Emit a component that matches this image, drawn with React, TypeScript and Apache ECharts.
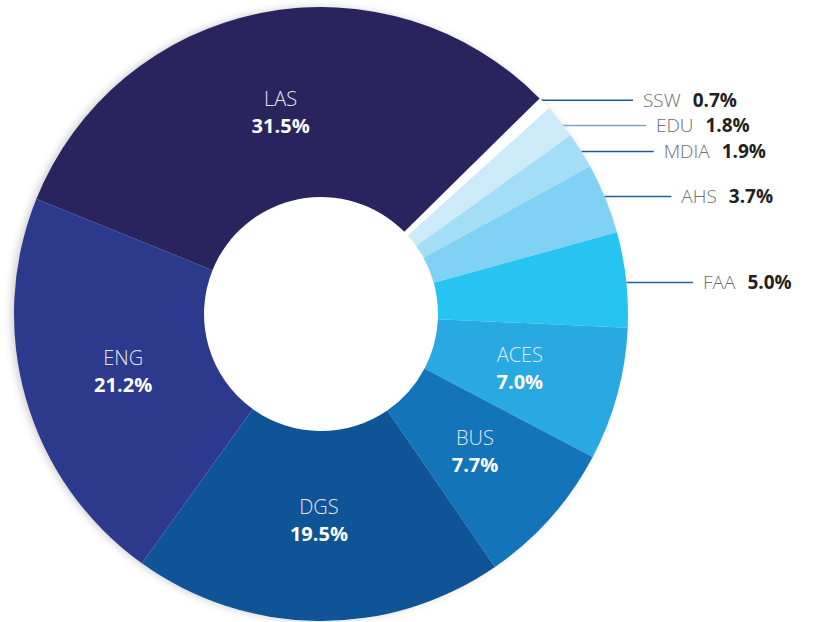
import React, { useEffect, useRef } from "react";
import * as echarts from "echarts";

const categories = ["SSW", "EDU", "MDIA", "AHS", "FAA", "ACES", "BUS", "DGS", "ENG", "LAS"];
const shares = [0.7, 1.8, 1.9, 3.7, 5.0, 7.0, 7.7, 19.5, 21.2, 31.5];
const outsideLabels = ["SSW", "EDU", "MDIA", "AHS", "FAA"];

const sliceColors: Record<string, string> = {
  SSW: "#ffffff",
  EDU: "#cdeaf8",
  MDIA: "#a4ddf6",
  AHS: "#7fd2f4",
  FAA: "#27c4f2",
  ACES: "#28a9e1",
  BUS: "#1474ba",
  DGS: "#0e5496",
  ENG: "#2c398c",
  LAS: "#29245e",
};
// leader line styling: horizontal length, colour, and small vertical nudge
const leaderStyle: Record<string, { len2: number; color: string; nudge: number }> = {
  SSW: { len2: 88, color: "#1d5b95", nudge: -3 },
  EDU: { len2: 85, color: "#7fa2c0", nudge: 4 },
  MDIA: { len2: 72, color: "#1d5b95", nudge: 1 },
  AHS: { len2: 65, color: "#1f5f9b", nudge: -2 },
  FAA: { len2: 66, color: "#2464a5", nudge: 3 },
};

const FONT = "'Open Sans', 'Noto Sans', sans-serif";
const CENTER = [321, 314];
const OUTER_R = 307;
const INNER_LABEL_RADIUS = 206;

export default function App() {
  const ref = useRef<HTMLDivElement>(null);
  useEffect(() => {
    if (!ref.current) return;
    const chart = echarts.init(ref.current, undefined, { renderer: "svg" });
    const data = categories.map((name, i) => {
      const isOut = outsideLabels.includes(name);
      const pct = shares[i].toFixed(1) + "%";
      const item: any = {
        name,
        value: shares[i],
        itemStyle: { color: sliceColors[name] },
      };
      if (isOut) {
        item.label = {
          show: true,
          position: "outside",
          formatter: `{n|${name}}{v|${pct}}`,
          distanceToLabelLine: 10,
        };
        item.labelLine = {
          show: true,
          length: 1,
          length2: leaderStyle[name].len2,
          smooth: false,
          lineStyle: { color: leaderStyle[name].color, width: 1.4 },
        };
      } else {
        item.label = {
          show: true,
          position: "inside",
          formatter: `{ni|${name}}\n{vi|${pct}}`,
        };
        item.labelLine = { show: false };
      }
      return item;
    });
    chart.setOption({
      animation: false,
      backgroundColor: "#ffffff",
      series: [
        {
          type: "pie",
          silent: true,
          center: CENTER,
          radius: [0, OUTER_R - 1],
          z: 1,
          label: { show: false },
          labelLine: { show: false },
          data: [
            {
              value: 1,
              itemStyle: {
                color: "#ffffff",
                shadowBlur: 8,
                shadowColor: "rgba(0,0,0,0.22)",
                shadowOffsetX: -3,
              },
            },
          ],
        },
        {
          type: "pie",
          z: 2,
          center: CENTER,
          radius: [117, OUTER_R],
          startAngle: 44.6,
          clockwise: true,
          avoidLabelOverlap: false,
          labelLayout: (p: any) => {
            const name = categories[p.dataIndex];
            if (outsideLabels.includes(name)) {
              const nudge = leaderStyle[name].nudge;
              const pts = p.labelLinePoints;
              if (!pts || !nudge) return { hideOverlap: false };
              const y = pts[0][1] + nudge;
              const dyc = y - CENTER[1];
              const xs = CENTER[0] + Math.sqrt(Math.max(0, OUTER_R * OUTER_R - dyc * dyc));
              const xe = pts[pts.length - 1][0];
              return {
                hideOverlap: false,
                dy: nudge,
                labelLinePoints: [
                  [xs, y],
                  [xs + 1, y],
                  [xe, y],
                ],
              };
            }
            const r = p.labelRect;
            const cx = r.x + r.width / 2;
            const cy = r.y + r.height / 2;
            const vx = cx - CENTER[0];
            const vy = cy - CENTER[1];
            const d = Math.sqrt(vx * vx + vy * vy) || 1;
            const k = INNER_LABEL_RADIUS / d;
            return { hideOverlap: false, dx: (k - 1) * vx, dy: (k - 1) * vy };
          },
          label: {
            fontFamily: FONT,
            rich: {
              n: { fontFamily: FONT, fontSize: 19, fontWeight: 300, color: "#6d6e71", padding: [0, 12, 0, 0], lineHeight: 19 },
              v: { fontFamily: FONT, fontSize: 19, fontWeight: "bold", color: "#231f20", lineHeight: 19 },
              ni: { fontFamily: FONT, fontSize: 20, fontWeight: 300, color: "#e6e6f2", lineHeight: 27, align: "center" },
              vi: { fontFamily: FONT, fontSize: 20, fontWeight: "bold", color: "#ffffff", lineHeight: 27, align: "center" },
            },
          },
          data,
        },
      ],
    });
    return () => chart.dispose();
  }, []);
  return (
    <div
      ref={ref}
      style={{ position: "fixed", left: 0, top: 0, width: 819, height: 622, background: "#fff" }}
    />
  );
}
